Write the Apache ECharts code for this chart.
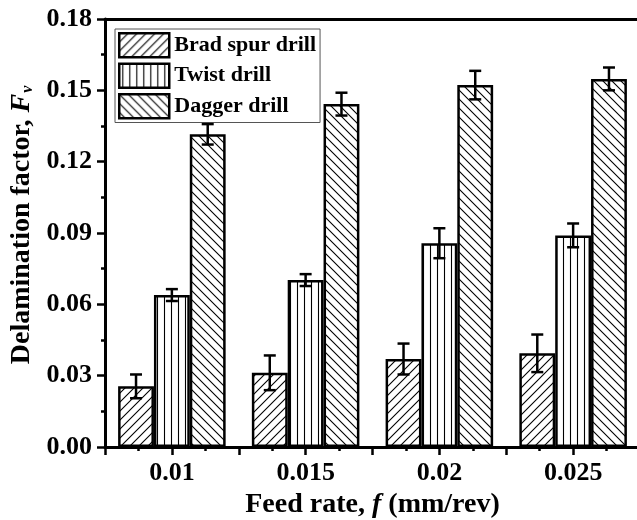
<!DOCTYPE html>
<html>
<head>
<meta charset="utf-8">
<script src="https://cdn.jsdelivr.net/npm/echarts@6/dist/echarts.min.js"></script>
<style>html,body{margin:0;padding:0;background:#fff;}#c{width:637px;height:520px;}</style>
</head>
<body>
<div id="c"></div>
<script>
const categories = ['0.01', '0.015', '0.02', '0.025'];
const seriesNames = ['Brad spur drill', 'Twist drill', 'Dagger drill'];
const bradValues = [0.0255, 0.0312, 0.0370, 0.0394];
const bradErrors = [0.0050, 0.0073, 0.0065, 0.0079];
const twistValues = [0.0639, 0.0702, 0.0857, 0.0890];
const twistErrors = [0.0025, 0.0025, 0.0063, 0.0050];
const daggerValues = [0.1315, 0.1442, 0.1522, 0.1548];
const daggerErrors = [0.0043, 0.0048, 0.0060, 0.0048];
const yTicks = { min: 0, max: 0.18, interval: 0.03 };

const FONT = '"Liberation Serif", "Times New Roman", serif';
const BAR_FRAC = 0.268;

function hatch(type, size) {
  const c = document.createElement('canvas');
  c.width = c.height = size;
  const g = c.getContext('2d');
  g.fillStyle = '#fff';
  g.fillRect(0, 0, size, size);
  g.strokeStyle = '#000';
  g.lineWidth = 1.1;
  g.beginPath();
  if (type === '/') {
    g.moveTo(-1, size + 1); g.lineTo(size + 1, -1);
    g.moveTo(-1, 1); g.lineTo(1, -1);
    g.moveTo(size - 1, size + 1); g.lineTo(size + 1, size - 1);
  } else if (type === '\\') {
    g.moveTo(-1, -1); g.lineTo(size + 1, size + 1);
    g.moveTo(size - 1, -1); g.lineTo(size + 1, 1);
    g.moveTo(-1, size - 1); g.lineTo(1, size + 1);
  } else {
    g.moveTo(Math.floor(size / 2) + 0.5, 0); g.lineTo(Math.floor(size / 2) + 0.5, size);
  }
  g.stroke();
  return c;
}

const patterns = [hatch('/', 9), hatch('|', 7), hatch('\\', 9)];
const valueSets = [bradValues, twistValues, daggerValues];
const errorSets = [bradErrors, twistErrors, daggerErrors];

const chart = echarts.init(document.getElementById('c'), null, { renderer: 'canvas' });

const barSeries = seriesNames.map((name, i) => ({
  name: name,
  type: 'bar',
  xAxisIndex: 0,
  data: valueSets[i],
  barWidth: (BAR_FRAC * 100) + '%',
  barGap: '0%',
  itemStyle: {
    color: { image: patterns[i], repeat: 'repeat' },
    borderColor: '#000',
    borderWidth: 2.5
  },
  z: 2
}));

const errSeries = seriesNames.map((name, i) => ({
  type: 'custom',
  xAxisIndex: 0,
  data: categories.map((c, k) => [k, valueSets[i][k], errorSets[i][k]]),
  z: 5,
  silent: true,
  renderItem: function (params, api) {
    const k = api.value(0), v = api.value(1), e = api.value(2);
    const band = api.size([1, 0])[0];
    const bw = band * BAR_FRAC;
    const off = (i - 1) * bw;
    const top = api.coord([k, v + e]);
    const bot = api.coord([k, v - e]);
    const x = top[0] + off;
    const cap = 6;
    const st = { stroke: '#000', lineWidth: 2.5 };
    return {
      type: 'group',
      children: [
        { type: 'line', shape: { x1: x, y1: top[1], x2: x, y2: bot[1] }, style: st },
        { type: 'line', shape: { x1: x - cap, y1: top[1], x2: x + cap, y2: top[1] }, style: st },
        { type: 'line', shape: { x1: x - cap, y1: bot[1], x2: x + cap, y2: bot[1] }, style: st }
      ]
    };
  }
}));

chart.setOption({
  animation: false,
  backgroundColor: '#fff',
  textStyle: { fontFamily: FONT },
  grid: { left: 105, right: -3, top: 19, bottom: 73, containLabel: false, outerBoundsMode: 'none' },
  legend: {
    left: 115, top: 29,
    orient: 'vertical',
    data: seriesNames.map(n => ({ name: n, icon: 'rect' })),
    itemWidth: 50, itemHeight: 24, itemGap: 4,
    padding: [3, 4, 3, 3],
    backgroundColor: '#fff',
    borderColor: '#555', borderWidth: 1,
    borderRadius: 0,
    selectedMode: false,
    textStyle: { fontFamily: FONT, fontWeight: 'bold', fontSize: 22, color: '#000', padding: [0, 0, 0, 0] },
    itemStyle: { borderColor: '#000', borderWidth: 2.5 }
  },
  xAxis: [
    {
      type: 'category',
      data: categories,
      position: 'bottom',
      axisLine: { lineStyle: { color: '#000', width: 3 } },
      axisTick: { show: false },
      axisLabel: { color: '#000', fontFamily: FONT, fontWeight: 'bold', fontSize: 26, margin: 13 },
      name: '{t|Feed rate, }{i|f}{t| (mm/rev)}',
      nameLocation: 'middle',
      nameGap: 39,
      nameTextStyle: {
        rich: {
          t: { fontFamily: FONT, fontWeight: 'bold', fontSize: 28, color: '#000' },
          i: { fontFamily: FONT, fontWeight: 'bold', fontStyle: 'italic', fontSize: 28, color: '#000' }
        }
      },
      splitLine: { show: false }
    },
    {
      type: 'value',
      position: 'bottom',
      min: 0, max: 4, interval: 0.5,
      axisLine: { show: false },
      axisTick: { show: true, length: 8, lineStyle: { color: '#000', width: 2.5 } },
      minorTick: { show: true, splitNumber: 2, length: 4, lineStyle: { color: '#000', width: 2.5 } },
      axisLabel: { show: false },
      splitLine: { show: false }
    },
    {
      type: 'value',
      position: 'top',
      min: 0, max: 4,
      axisLine: { show: true, lineStyle: { color: '#000', width: 3 } },
      axisTick: { show: false },
      axisLabel: { show: false },
      splitLine: { show: false }
    }
  ],
  yAxis: {
    type: 'value',
    min: yTicks.min, max: yTicks.max, interval: yTicks.interval,
    axisLine: { show: true, lineStyle: { color: '#000', width: 3 } },
    axisTick: { show: true, length: 8, lineStyle: { color: '#000', width: 2.5 } },
    minorTick: { show: true, splitNumber: 2, length: 4, lineStyle: { color: '#000', width: 2.5 } },
    axisLabel: {
      color: '#000', fontFamily: FONT, fontWeight: 'bold', fontSize: 26, margin: 13,
      formatter: v => v.toFixed(2)
    },
    splitLine: { show: false },
    name: '{t|Delamination factor, }{i|F}{s|v}',
    nameLocation: 'middle',
    nameGap: 67,
    nameTextStyle: {
      padding: [0, 0, 0, 16],
      rich: {
        t: { fontFamily: FONT, fontWeight: 'bold', fontSize: 28, color: '#000' },
        i: { fontFamily: FONT, fontWeight: 'bold', fontStyle: 'italic', fontSize: 28, color: '#000' },
        s: { fontFamily: FONT, fontWeight: 'bold', fontStyle: 'italic', fontSize: 16, color: '#000', padding: [12, 0, 0, 1] }
      }
    }
  },
  series: barSeries.concat(errSeries)
});
</script>
</body>
</html>
